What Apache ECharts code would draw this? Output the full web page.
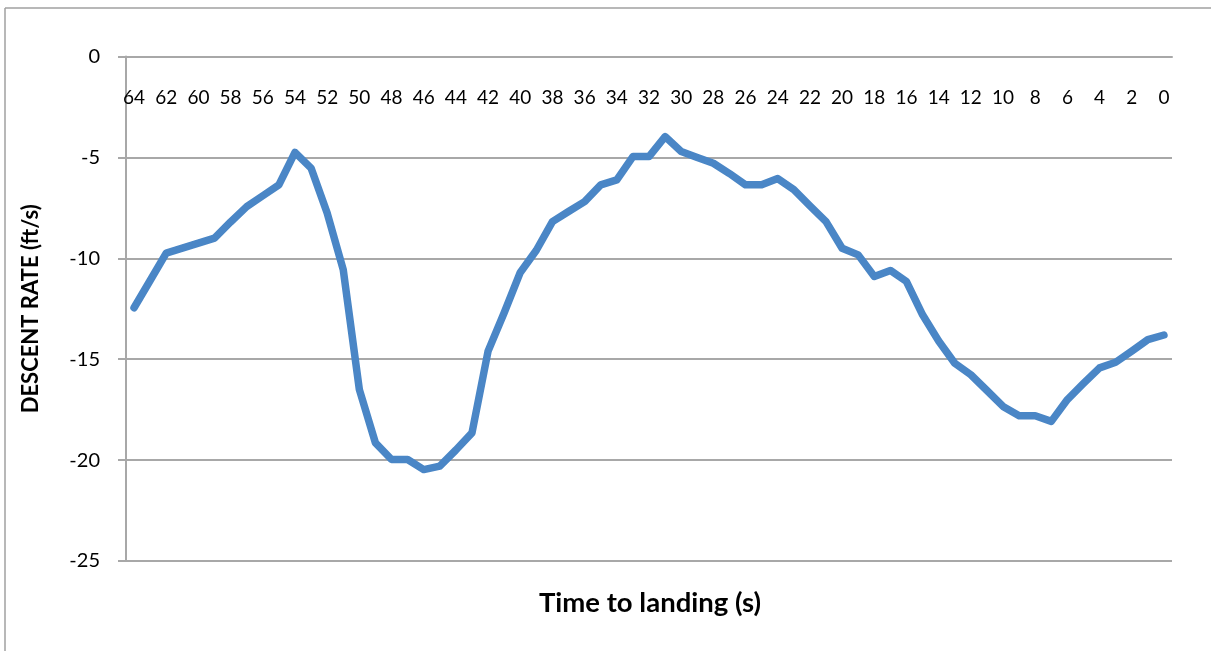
<!DOCTYPE html>
<html>
<head>
<meta charset="utf-8">
<style>
html,body{margin:0;padding:0;background:#fff;}
#chart{width:1211px;height:651px;}
</style>
<script src="https://cdn.jsdelivr.net/npm/echarts@6/dist/echarts.min.js"></script>
</head>
<body>
<div id="chart"></div>
<script>
// Time to landing (s), 64 down to 0
const timeLabels = [];
for (let t = 64; t >= 0; t--) timeLabels.push(String(t));

// Descent rate (ft/s), one value per second (64 .. 0)
const descentRate = [
  -12.45, -11.1, -9.74, -9.5, -9.25, -9.0, -8.2, -7.44, -6.9, -6.36,
  -4.75, -5.53, -7.76, -10.57, -16.5, -19.15, -19.97, -19.97, -20.47, -20.3,
  -19.5, -18.65, -14.6, -12.7, -10.7, -9.6, -8.18, -7.68, -7.19, -6.36,
  -6.11, -4.96, -4.96, -3.97, -4.71, -5.0, -5.29, -5.8, -6.36, -6.36,
  -6.05, -6.6, -7.4, -8.18, -9.5, -9.83, -10.9, -10.6, -11.15, -12.8,
  -14.1, -15.2, -15.77, -16.55, -17.34, -17.8, -17.8, -18.08, -17.0, -16.2,
  -15.43, -15.15, -14.6, -14.03, -13.8
];

const yTicks = [0, -5, -10, -15, -20, -25];
const yAxisTitle = 'DESCENT RATE (ft/s)';
const xAxisTitle = 'Time to landing (s)';

const FONT = 'Lato, "Open Sans", sans-serif';
const GRID_COLOR = '#a8a8a8';

const chart = echarts.init(document.getElementById('chart'), null, {renderer: 'canvas'});
chart.setOption({
  animation: false,
  backgroundColor: '#ffffff',
  grid: {left: 126, right: 39, top: 56.5, bottom: 90, containLabel: false},
  xAxis: {
    type: 'category',
    data: timeLabels,
    boundaryGap: true,
    position: 'top',
    axisLine: {show: true, onZero: false, lineStyle: {color: GRID_COLOR, width: 2}},
    axisTick: {show: false},
    axisLabel: {inside: true, interval: 1, margin: 32, color: '#000', fontSize: 19, fontFamily: FONT},
    splitLine: {show: false}
  },
  yAxis: {
    type: 'value',
    min: yTicks[yTicks.length - 1],
    max: yTicks[0],
    interval: 5,
    name: yAxisTitle,
    nameLocation: 'middle',
    nameGap: 84,
    nameTextStyle: {color: '#000', fontSize: 22, fontWeight: 'bold', fontFamily: FONT},
    axisLine: {show: true, lineStyle: {color: GRID_COLOR, width: 2}},
    axisTick: {show: true, length: 8, lineStyle: {color: GRID_COLOR, width: 2}},
    axisLabel: {margin: 26, color: '#000', fontSize: 20, fontFamily: FONT},
    splitLine: {show: true, lineStyle: {color: GRID_COLOR, width: 2}}
  },
  series: [{
    type: 'line',
    data: descentRate,
    symbol: 'none',
    smooth: false,
    lineStyle: {color: '#4a86c6', width: 7.5, join: 'round', cap: 'round'},
    itemStyle: {color: '#4a86c6'}
  }],
  graphic: [
    {type: 'line', shape: {x1: 5, y1: 8, x2: 1211, y2: 8}, style: {stroke: '#a0a0a0', lineWidth: 1.5}, silent: true},
    {type: 'line', shape: {x1: 5, y1: 8, x2: 5, y2: 651}, style: {stroke: '#a0a0a0', lineWidth: 1.5}, silent: true},
    {type: 'text', x: 650, y: 603, style: {text: xAxisTitle, fill: '#000', font: 'bold 27.5px ' + FONT, textAlign: 'center', textVerticalAlign: 'middle'}, silent: true}
  ]
});
</script>
</body>
</html>
